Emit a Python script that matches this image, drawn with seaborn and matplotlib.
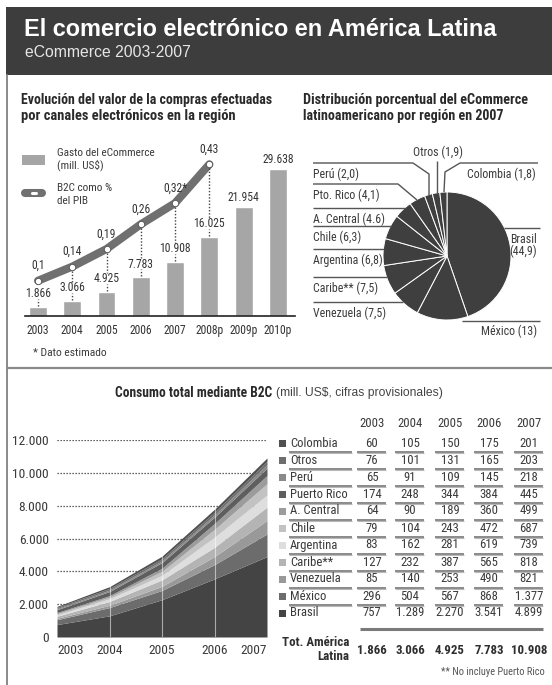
import os
import matplotlib
matplotlib.use('Agg')
import matplotlib.pyplot as plt
import seaborn as sns
import numpy as np
import pandas as pd
from matplotlib import font_manager as fm
from matplotlib.font_manager import FontProperties
from matplotlib.patches import Rectangle

# ---------------- data ----------------
bar_years = ['2003', '2004', '2005', '2006', '2007', '2008p', '2009p', '2010p']
gasto = [1866, 3066, 4925, 7783, 10908, 16025, 21954, 29638]
pib = [0.10, 0.14, 0.19, 0.26, 0.32, 0.43]
pib_labels = ['0,1', '0,14', '0,19', '0,26', '0,32*', '0,43']

pie_regions = ['Brasil', 'México', 'Venezuela', 'Caribe**', 'Argentina', 'Chile',
               'A. Central', 'Pto. Rico', 'Perú', 'Otros', 'Colombia']
pie_shares = [44.9, 13, 7.5, 7.5, 6.8, 6.3, 4.6, 4.1, 2.0, 1.9, 1.8]
pie_share_labels = ['44,9', '13', '7,5', '7,5', '6,8', '6,3', '4.6', '4,1', '2,0', '1,9', '1,8']

b2c_years = [2003, 2004, 2005, 2006, 2007]
colombia = [60, 105, 150, 175, 201]
otros = [76, 101, 131, 165, 203]
peru = [65, 91, 109, 145, 218]
puerto_rico = [174, 248, 344, 384, 445]
a_central = [64, 90, 189, 360, 499]
chile = [79, 104, 243, 472, 687]
argentina = [83, 162, 281, 619, 739]
caribe = [127, 232, 387, 565, 818]
venezuela = [85, 140, 253, 490, 821]
mexico = [296, 504, 567, 868, 1377]
brasil = [757, 1289, 2270, 3541, 4899]
totales = [1866, 3066, 4925, 7783, 10908]
table_names = ['Colombia', 'Otros', 'Perú', 'Puerto Rico', 'A. Central', 'Chile',
               'Argentina', 'Caribe**', 'Venezuela', 'México', 'Brasil']
table_rows = [colombia, otros, peru, puerto_rico, a_central, chile,
              argentina, caribe, venezuela, mexico, brasil]
table_colors = ['#505050', '#6e6e6e', '#8a8a8a', '#5e5e5e', '#9c9c9c', '#c2c2c2',
                '#dedede', '#b4b4b4', '#999999', '#6c6c6c', '#444444']


def fmt(v):
    return f"{v:,}".replace(',', '.')


# ---------------- fonts ----------------
sns.set_theme(style='white')


def wnum(w):
    if isinstance(w, (int, float)):
        return int(w)
    return {'normal': 400, 'regular': 400, 'book': 400, 'medium': 500, 'semibold': 600,
            'demibold': 600, 'bold': 700, 'heavy': 800, 'black': 900, 'light': 300}.get(str(w).lower(), 400)


PREF = ['Roboto Condensed', 'Archivo Narrow', 'PT Sans Narrow', 'Fira Sans Condensed',
        'IBM Plex Sans Condensed', 'Asap Condensed', 'Encode Sans Condensed',
        'Barlow Semi Condensed', 'Sofia Sans Condensed', 'Open Sans Condensed',
        'Liberation Sans Narrow']
byfam = {}
for f in fm.fontManager.ttflist:
    if f.style != 'normal':
        continue
    byfam.setdefault(f.name, []).append(f)
NREG = NBOLD = None
for fam in PREF:
    fl = [f for f in byfam.get(fam, []) if '[' not in os.path.basename(f.fname)]
    reg = [f for f in fl if wnum(f.weight) == 400]
    bold = [f for f in fl if wnum(f.weight) == 700]
    if reg and bold:
        NREG, NBOLD = reg[0].fname, bold[0].fname
        break
plt.rcParams['font.family'] = ['Liberation Sans', 'DejaVu Sans']

W, H = 552, 685
fig = plt.figure(figsize=(W / 100, H / 100), dpi=100)
fig.patch.set_facecolor('white')
REND = fig.canvas.get_renderer()


def box(x0, y0, x1, y1):
    return [x0 / W, 1 - y1 / H, (x1 - x0) / W, (y1 - y0) / H]


bg = fig.add_axes([0, 0, 1, 1], zorder=0)
bg.set_xlim(0, W); bg.set_ylim(H, 0); bg.axis('off')
ov = fig.add_axes([0, 0, 1, 1], zorder=10)
ov.set_xlim(0, W); ov.set_ylim(H, 0); ov.axis('off')
ov.patch.set_alpha(0)

TXT = '#3a3a3a'


def fprops(size, weight='normal', narrow=True):
    if narrow and NREG:
        return FontProperties(fname=NBOLD if weight == 'bold' else NREG, size=size)
    return FontProperties(family=['Liberation Sans', 'DejaVu Sans'], weight=weight, size=size)


def size_for(s, target, weight='normal', narrow=True, ref=10.0):
    t = fig.text(0, 0, s, fontproperties=fprops(ref, weight, narrow), parse_math=False)
    wd = t.get_window_extent(renderer=REND).width
    t.remove()
    return ref * target / wd if wd > 0 else ref


def T(x, y, s, size=8.5, weight='normal', color=TXT, ha='left', va='center', narrow=True,
      fitw=None, **kw):
    if fitw is not None:
        size = size_for(s, fitw, weight, narrow)
    return ov.text(x, y, s, fontproperties=fprops(size, weight, narrow), color=color, ha=ha,
                   va=va, parse_math=False, **kw)


def L(xs, ys, **kw):
    ov.plot(xs, ys, solid_capstyle='butt', **kw)


# group sizes calibrated on widths
S_TAB = size_for('Puerto Rico', 57)
S_PIE = size_for('Argentina (6,8)', 69)
S_LEG = size_for('Gasto del eCommerce', 97)
S_BAR = size_for('2003', 22.5)
S_AREA = size_for('12.000', 36)
S_TOT = size_for('Tot. América', 67, 'bold')

# header & frame
bg.add_patch(Rectangle((6, 7), W - 6, 68, color='#3d3d3d', lw=0))
bg.plot([7, 7], [75, H], color='#8a8a8a', lw=1.4)
bg.plot([7, W], [368, 368], color='#8a8a8a', lw=1.6)
T(24, 29, 'El comercio electrónico en América Latina', weight='bold', color='white',
  narrow=False, fitw=472)
T(25, 52, 'eCommerce 2003-2007', color='#e6e6e6', narrow=False, fitw=167)

# section titles
TC = '#2a2a2a'
T(21, 100, 'Evolución del valor de la compras efectuadas', weight='bold', color=TC, fitw=252)
T(21, 116, 'por canales electrónicos en la región', weight='bold', color=TC, fitw=214)
T(303, 100, 'Distribución porcentual del eCommerce', weight='bold', color=TC, fitw=225)
T(303, 116, 'latinoamericano por región en 2007', weight='bold', color=TC, fitw=200)

# ---------------- bar + line chart ----------------
BAR = '#a6a6a6'
LINE = '#707070'
axb = fig.add_axes(box(25, 157.3, 295, 316), zorder=2)
df_bar = pd.DataFrame({'year': bar_years, 'gasto': gasto})
sns.barplot(data=df_bar, x='year', y='gasto', color=BAR, saturation=1, width=0.52, ax=axb)
axb.set_xlim(-0.38, 7.5)
axb.set_ylim(0, 32000)
axb.patch.set_alpha(0)
for s in ['top', 'right', 'left']:
    axb.spines[s].set_visible(False)
axb.spines['bottom'].set_color('#222222')
axb.spines['bottom'].set_linewidth(1.2)
axb.set_xlabel(''); axb.set_ylabel(''); axb.set_yticks([])
axb.tick_params(axis='x', length=0, pad=6, labelcolor='#333333')
for t in axb.get_xticklabels():
    t.set_fontproperties(fprops(S_BAR))

axl = axb.twinx()
axl.set_ylim(0, 0.4498)
axl.set_yticks([])
for s in axl.spines.values():
    s.set_visible(False)
xl = np.arange(len(pib))
axl.plot(xl, pib, color=LINE, lw=5.8, solid_capstyle='round', solid_joinstyle='round', zorder=3)
axl.plot(xl, pib, ls='none', marker='o', ms=4.6, mfc='white', mec='#5a5a5a', mew=0.7, zorder=4)


def to_px(ax, x, y):
    dx, dy = ax.transData.transform((x, y))
    return dx, H - dy


for i, v in enumerate(gasto):
    bx, by = to_px(axb, i, v)
    off = 13 if i < 6 else 10
    ly = by - off
    T(bx, ly, fmt(v), size=S_BAR, ha='center', color='#333333')
    if i < 6:
        L([bx, bx], [by - 1, ly + 5], color='#444444', lw=1, ls=(0, (1, 1.3)))
for i, v in enumerate(pib):
    px, py = to_px(axl, i, v)
    T(px, py - 15, pib_labels[i], size=S_BAR, ha='center', color='#333333')
    if i >= 1:
        bx, by = to_px(axb, i, gasto[i])
        L([px, px], [py + 4, by - 13 - 6], color='#444444', lw=1, ls=(0, (1, 1.3)))

# legend
bg.add_patch(Rectangle((22, 155), 23, 10, color=BAR, lw=0))
T(57, 153, 'Gasto del eCommerce', size=S_LEG)
T(57, 165, '(mill. US$)', size=S_LEG)
ov.plot([25, 42], [193, 193], color=LINE, lw=5.8, solid_capstyle='round')
ov.plot([31.5, 35.5], [193, 193], color='white', lw=2.2, solid_capstyle='round')
T(57, 188, 'B2C como %', size=S_LEG)
T(57, 201, 'del PIB', size=S_LEG)
T(33, 353, '* Dato estimado', fitw=73)

# ---------------- pie ----------------
CX, CY, R = 447, 256, 64
axp = fig.add_axes(box(CX - R, CY - R, CX + R, CY + R), zorder=2)
axp.pie(pie_shares, startangle=90, counterclock=False, colors=['#3f3f3f'] * len(pie_shares),
        wedgeprops=dict(edgecolor='white', linewidth=0.7))
axp.set_xlim(-1, 1); axp.set_ylim(-1, 1); axp.set_aspect('equal')
axp.axis('off')

pl = dict(color='#555555', lw=1.0)
lab = {r: f"{r} ({s})" for r, s in zip(pie_regions, pie_share_labels)}
left_specs = [('Perú', 163, [(313, 163), (413, 163), (429, 174), (429, 195)]),
              ('Pto. Rico', 184, [(313, 184), (398, 184), (417, 200)]),
              ('A. Central', 208, [(313, 208), (405, 208)]),
              ('Chile', 226, [(313, 226), (391, 226)]),
              ('Argentina', 249, [(313, 249), (384, 249)]),
              ('Caribe**', 277, [(313, 277), (387, 277)]),
              ('Venezuela', 302, [(313, 302), (403, 302)])]
for name, ly, pts in left_specs:
    xs, ys = zip(*pts)
    L(xs, ys, **pl)
    T(313, ly + 11, lab[name], size=S_PIE)
L([437, 437], [161, 193], **pl)
T(438, 152, lab['Otros'], size=S_PIE, ha='center')
L([538, 460, 445, 444], [163, 163, 172, 192], **pl)
T(536, 174, lab['Colombia'], size=S_PIE, ha='right')
L([504, 540], [228, 228], **pl)
T(537, 239, 'Brasil', size=S_PIE, ha='right')
T(537, 251, '(' + pie_share_labels[0] + ')', size=S_PIE, ha='right')
L([462, 540], [321, 321], **pl)
T(537, 331, lab['México'], size=S_PIE, ha='right')

# ---------------- stacked area ----------------
t1 = T(115, 393, 'Consumo total mediante B2C', weight='bold', color=TC, fitw=157)
bb = t1.get_window_extent(renderer=REND)
T(bb.x1 + 4, 393, '(mill. US$, cifras provisionales)', color='#444444', narrow=False, fitw=168)

axa = fig.add_axes(box(57, 440, 267, 637), zorder=2)
stack_bottom_up = table_rows[::-1]
colors_bottom_up = table_colors[::-1]
axa.stackplot(b2c_years, stack_bottom_up, colors=colors_bottom_up, lw=0, zorder=2)
axa.set_xlim(2003, 2007)
axa.set_ylim(0, 12000)
axa.set_yticks(np.arange(0, 12001, 2000))
axa.set_yticklabels([fmt(v) for v in np.arange(0, 12001, 2000)])
axa.set_xticks(b2c_years)
axa.set_xticklabels([str(y) for y in b2c_years])
axa.yaxis.grid(True, ls=(0, (1, 1.4)), color='#333333', lw=0.9, zorder=1)
axa.xaxis.grid(False)
axa.set_axisbelow(True)
axa.vlines([2004, 2005, 2006], 0, 12000, color='white', lw=0.8, alpha=0.55, zorder=3)
for s in axa.spines.values():
    s.set_visible(False)
axa.patch.set_alpha(0)
axa.tick_params(axis='both', length=0, labelcolor='#3a3a3a')
axa.tick_params(axis='y', pad=6)
axa.tick_params(axis='x', pad=5)
for t in axa.get_xticklabels() + axa.get_yticklabels():
    t.set_fontproperties(fprops(S_AREA))
xt = axa.get_xticklabels()
xt[0].set_ha('left'); xt[-1].set_ha('right')

# ---------------- table ----------------
cols_x = [372, 410, 450, 489, 529]
row_y0, row_dy = 443, 17.0
for j, yv in enumerate(b2c_years):
    T(cols_x[j], 423, str(yv), size=S_TAB, ha='center')
for i, (nm, vals, c) in enumerate(zip(table_names, table_rows, table_colors)):
    y = row_y0 + i * row_dy
    bg.add_patch(Rectangle((279, y - 3.5), 7, 7, color=c, lw=0))
    T(290, y, nm, size=S_TAB)
    for j, v in enumerate(vals):
        T(cols_x[j], y, fmt(v), size=S_TAB, ha='center')
    if i < len(table_names) - 1:
        yu = y + 8.5
        segs = [(289, 352)] + [(cx - 15, cx + 14) for cx in cols_x]
        for a, b in segs:
            L([a, b], [yu, yu], color='#6a6a6a', lw=1.1)
            L([a, b], [yu + 1.8, yu + 1.8], color='#b8b8b8', lw=0.8)
L([360, 543], [629, 629], color='#7a7a7a', lw=2.2)
T(349, 642, 'Tot. América', size=S_TOT, weight='bold', ha='right', color='#2f2f2f')
T(349, 657, 'Latina', size=S_TOT, weight='bold', ha='right', color='#2f2f2f')
for j, v in enumerate(totales):
    T(cols_x[j], 650, fmt(v), size=S_TOT, weight='bold', ha='center', color='#2f2f2f')
T(545, 672, '** No incluye Puerto Rico', color='#555555', ha='right', fitw=103)

fig.savefig('out.png', dpi=100, facecolor='white')
